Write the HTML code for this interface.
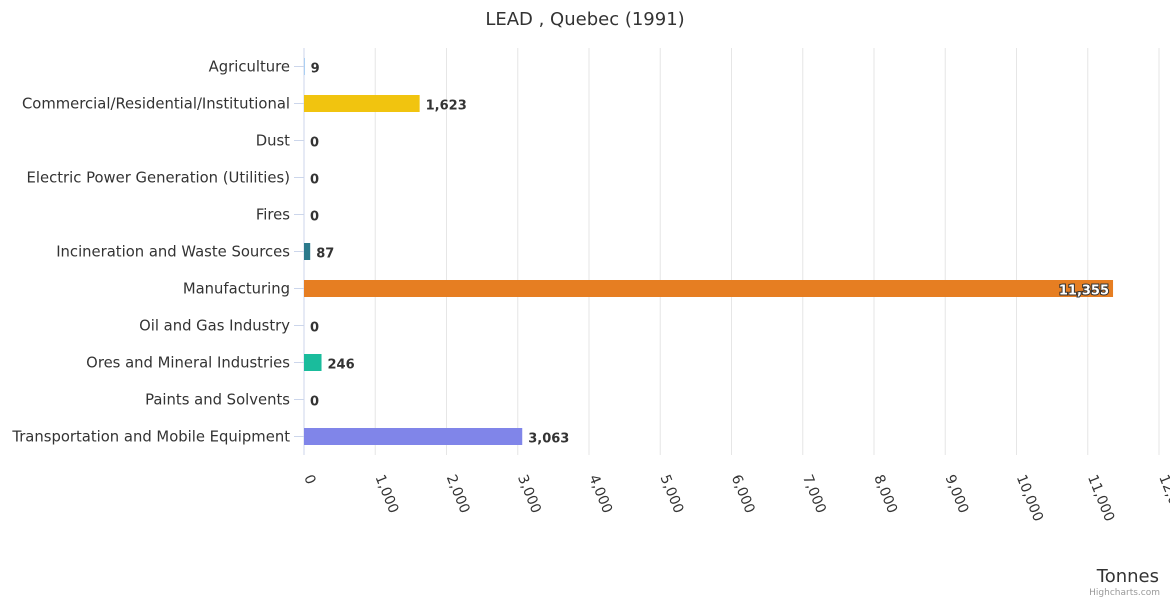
<!DOCTYPE html>
<html><head><meta charset="utf-8"><style>
body{margin:0;background:#fff;font-family:"Liberation Sans","DejaVu Sans",sans-serif;}
svg text{font-family:"DejaVu Sans","Liberation Sans",sans-serif;}
</style></head><body>
<svg id="c" width="1170" height="600">
<text x="585" y="25" text-anchor="middle" font-size="18" fill="#333">LEAD , Quebec (1991)</text>
<g id="grid"></g><g id="bars"></g><g id="labels"></g>
<text x="1159" y="582" text-anchor="end" font-size="18" fill="#333">Tonnes</text>
<text x="1160" y="595" text-anchor="end" font-size="9" fill="#999">Highcharts.com</text>
</svg>
<script>
const categories=["Agriculture","Commercial/Residential/Institutional","Dust","Electric Power Generation (Utilities)","Fires","Incineration and Waste Sources","Manufacturing","Oil and Gas Industry","Ores and Mineral Industries","Paints and Solvents","Transportation and Mobile Equipment"];
const values=[9,1623,0,0,0,87,11355,0,246,0,3063];
const colors=["#7cb5ec","#f1c40f","#434348","#90ed7d","#f7a35c","#2b7a8c","#e67e22","#8d4653","#1abc9c","#2c3e50","#8085e9"];
const ticks=[0,1000,2000,3000,4000,5000,6000,7000,8000,9000,10000,11000,12000];
const NS="http://www.w3.org/2000/svg";
const x0=304,x1=1159,topY=48,rowH=37,xMax=12000;
const xs=v=>x0+(x1-x0)*v/xMax;
const yc=i=>topY+rowH*i+rowH/2;
const fmt=v=>v.toLocaleString("en-US");
function mk(tag,a,p){const e=document.createElementNS(NS,tag);for(const k in a)e.setAttribute(k,a[k]);p.appendChild(e);return e;}
const g=document.getElementById("grid"),b=document.getElementById("bars"),l=document.getElementById("labels");
ticks.forEach(t=>{
 const ln=mk("line",{x1:xs(t),x2:xs(t),y1:topY,y2:topY+rowH*categories.length,stroke:"#e6e6e6"},g);
 
 
 const tx=mk("text",{x:xs(t),y:477,"font-size":14,fill:"#333",transform:`rotate(68 ${xs(t)} 477)`},l);
 tx.textContent=fmt(t);
 
 
});
mk("line",{x1:x0,x2:x0,y1:topY,y2:topY+rowH*categories.length,stroke:"#ccd6eb"},g);
categories.forEach((c,i)=>{
 const y=yc(i);
 const tk=mk("line",{x1:x0-10,x2:x0,y1:y,y2:y,stroke:"#ccd6eb"},g);
 
 
 const t=mk("text",{x:290,y:y+5,"text-anchor":"end","font-size":14.8,fill:"#333"},l);
 t.textContent=c;
 
 
 const w=xs(values[i])-x0;
 const r=mk("rect",{x:x0,y:y-8.5,width:w,height:17,fill:colors[i]},b);
 
 
 const inside=w>700;
 const v=mk("text",{x:inside?xs(values[i])-4:xs(values[i])+6,y:y+6,"text-anchor":inside?"end":"start","font-size":13,"font-weight":"bold",fill:inside?"#fff":"#333",stroke:inside?"#333":"none","stroke-width":inside?2:0,"paint-order":"stroke"},l);
 v.textContent=fmt(values[i]);
 
 
});
</script>
</body></html>
